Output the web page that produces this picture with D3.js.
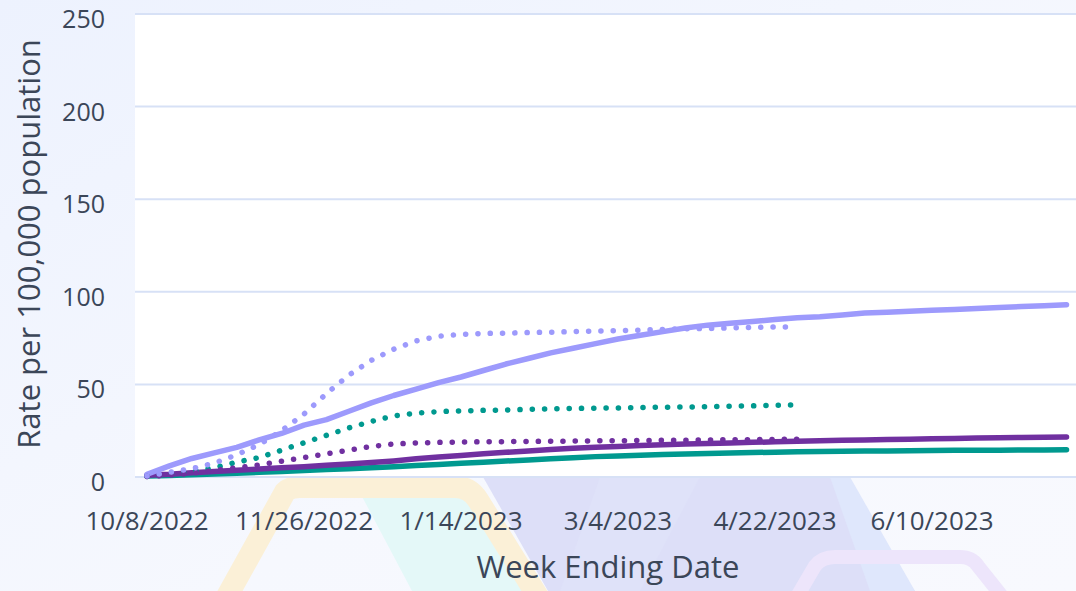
<!DOCTYPE html>
<html>
<head>
<meta charset="utf-8">
<script src="https://cdn.jsdelivr.net/npm/d3@7"></script>
<style>
  html, body { margin: 0; padding: 0; background: #f7f8fe; }
  svg { display: block; font-family: "Open Sans", sans-serif; }
</style>
</head>
<body>
<svg id="chart" width="1076" height="591"></svg>
<script>
// week ending dates, first one
var firstWeek = new Date(2022, 9, 8);

// cumulative rate per 100,000 (one value per week)
var solidLight = [1.5, 6, 10, 13, 16, 20, 23.5, 28, 31, 35.5, 40, 44, 47.5, 51, 54, 57.5, 61, 64, 67, 69.5,
                  72, 74.5, 76.5, 78.5, 80.5, 82, 83, 84, 85, 86, 86.5, 87.5, 88.5, 89, 89.5, 90, 90.5, 91, 91.5, 92, 92.5, 93];
var solidDark = [1, 1.5, 2.3, 3, 3.7, 4.3, 5, 5.6, 6.3, 7, 7.8, 8.7, 9.8, 10.8, 11.6, 12.5, 13.3, 14, 14.8, 15.5,
                 16, 16.5, 17, 17.4, 17.8, 18.1, 18.4, 18.7, 19, 19.3, 19.6, 19.8, 20, 20.2, 20.4, 20.6, 20.8, 21, 21.2, 21.3, 21.5, 21.6];
var solidTeal = [0.5, 0.8, 1.2, 1.6, 2, 2.5, 3, 3.5, 4, 4.5, 5, 5.6, 6.2, 6.8, 7.4, 8, 8.6, 9.2, 9.8, 10.4,
                 11, 11.4, 11.8, 12.1, 12.4, 12.7, 13, 13.2, 13.4, 13.6, 13.8, 13.9, 14, 14.1, 14.2, 14.3, 14.4, 14.5, 14.5, 14.6, 14.6, 14.7];
var dottedLight = [0.5, 2.5, 4.5, 7.5, 12, 17.5, 25, 34, 45, 55, 63, 69, 73.5, 76, 77, 77.5, 77.7, 78, 78.2, 78.5,
                   78.8, 79, 79.3, 79.7, 80, 80.2, 80.5, 80.8, 81, 81];
var dottedTeal = [0.3, 1.5, 3, 5, 8, 10.5, 14.5, 18.5, 22.5, 26.5, 30, 33, 34.5, 35.3, 35.7, 36, 36.2, 36.5, 36.8, 37,
                  37.2, 37.3, 37.5, 37.7, 37.8, 38, 38.2, 38.4, 38.7, 38.9];
var dottedDark = [0.3, 1, 2, 3.5, 5, 6.5, 8.5, 10.5, 12.5, 14.5, 16.5, 17.8, 18.4, 18.7, 18.9, 19, 19.1, 19.2, 19.3, 19.4,
                  19.5, 19.6, 19.7, 19.8, 19.9, 20, 20.1, 20.2, 20.3, 20.4];

var tickLabels = ["10/8/2022", "11/26/2022", "1/14/2023", "3/4/2023", "4/22/2023", "6/10/2023"];
var yTicks = [0, 50, 100, 150, 200, 250];

var series = [
  {values: solidTeal,   color: "#00998f", dotted: false},
  {values: solidDark,   color: "#7030a0", dotted: false},
  {values: solidLight,  color: "#9d9afc", dotted: false},
  {values: dottedTeal,  color: "#00998f", dotted: true},
  {values: dottedDark,  color: "#7030a0", dotted: true},
  {values: dottedLight, color: "#9d9afc", dotted: true}
];

var W = 1076, H = 591;
var plot = {left: 135, right: 1076, top: 14, bottom: 477};

var svg = d3.select("#chart");

function weekDate(i) { return d3.timeDay.offset(firstWeek, 7 * i); }

// background pieces
var bg = svg.append("g");
var grad = svg.append("defs").append("linearGradient").attr("id", "bgGrad")
    .attr("x1", 0).attr("y1", 0).attr("x2", 1).attr("y2", 1);
grad.append("stop").attr("offset", "0%").attr("stop-color", "#edf2fe");
grad.append("stop").attr("offset", "60%").attr("stop-color", "#f6f8fe");
grad.append("stop").attr("offset", "100%").attr("stop-color", "#f8f9fe");
bg.append("rect").attr("width", W).attr("height", H).attr("fill", "url(#bgGrad)");

// faint watermark shapes below the plot
bg.append("path").attr("d", "M483,477 L830,477 L915,591 L548,591 Z").attr("fill", "#dddff8");
bg.append("path").attr("d", "M600,477 L700,477 L640,591 L560,591 Z").attr("fill", "#e0e2f9").attr("opacity", 0.7);
bg.append("path").attr("d", "M830,477 L850,477 L915,591 L870,591 Z").attr("fill", "#dfe7fc");
bg.append("path").attr("d", "M357,487 L455,487 Q470,487 478,500 L535,591 L412,591 Z").attr("fill", "#e4f8f8");
bg.append("path").attr("d", "M225,600 L285,492 Q290,487 300,487 L455,487 Q470,487 478,500 L540,600")
    .attr("fill", "none").attr("stroke", "#fbf0d7").attr("stroke-width", 22);
bg.append("path").attr("d", "M795,600 L815,566 Q822,557 835,557 L960,557 Q972,557 978,566 L1005,600")
    .attr("fill", "none").attr("stroke", "#ede5fb").attr("stroke-width", 14);

bg.append("rect").attr("x", plot.left).attr("y", plot.top)
  .attr("width", plot.right - plot.left).attr("height", plot.bottom - plot.top)
  .attr("fill", "#ffffff");

var x = d3.scaleTime()
    .domain([d3.timeHour.offset(firstWeek, -Math.round(0.535 * 168)), d3.timeHour.offset(firstWeek, Math.round(41.42 * 168))])
    .range([plot.left, plot.right]);
var y = d3.scaleLinear().domain([0, 250]).range([plot.bottom, plot.top]);

// gridlines
svg.append("g").selectAll("line").data(yTicks).join("line")
  .attr("x1", plot.left).attr("x2", plot.right)
  .attr("y1", d => y(d)).attr("y2", d => y(d))
  .attr("stroke", "#d7e1f6").attr("stroke-width", 2);

// y tick labels
svg.append("g").selectAll("text").data(yTicks).join("text")
  .attr("x", 105).attr("y", d => y(d) + 4)
  .attr("text-anchor", "end").attr("dominant-baseline", "central")
  .attr("font-size", 25).attr("fill", "#3b4658")
  .text(d => d);

// x tick labels
var tickDates = tickLabels.map(function(s) {
  var p = s.split("/");
  return new Date(+p[2], +p[0] - 1, +p[1]);
});
svg.append("g").selectAll("text").data(tickDates).join("text")
  .attr("x", d => x(d)).attr("y", 530)
  .attr("text-anchor", "middle")
  .attr("font-size", 26).attr("fill", "#3b4658")
  .text((d, i) => tickLabels[i]);

// axis titles
svg.append("text")
  .attr("transform", "translate(40,244) rotate(-90)")
  .attr("text-anchor", "middle")
  .attr("font-size", 31).attr("fill", "#3b4658")
  .text("Rate per 100,000 population");

svg.append("text")
  .attr("x", 608).attr("y", 578)
  .attr("text-anchor", "middle")
  .attr("font-size", 31).attr("fill", "#3b4658")
  .text("Week Ending Date");

// lines
var line = d3.line()
  .x((d, i) => x(weekDate(i)))
  .y(d => y(d));

svg.append("g").selectAll("path").data(series).join("path")
  .attr("d", d => line(d.values))
  .attr("fill", "none")
  .attr("stroke", d => d.color)
  .attr("stroke-width", 5.5)
  .attr("stroke-linecap", "round")
  .attr("stroke-linejoin", "round")
  .attr("stroke-dasharray", d => d.dotted ? "0.1 12.2" : null);
</script>
</body>
</html>
